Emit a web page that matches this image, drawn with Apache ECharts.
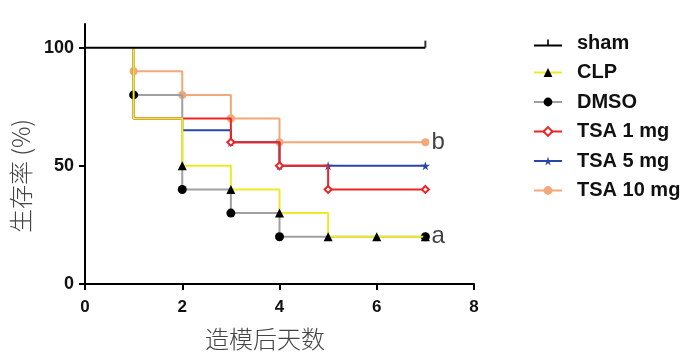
<!DOCTYPE html>
<html><head><meta charset="utf-8">
<script src="https://cdn.jsdelivr.net/npm/echarts@6/dist/echarts.min.js"></script>
<style>html,body{margin:0;padding:0;background:#fff}#c{width:700px;height:361px}</style>
</head><body><div id="c"></div>
<script>
var seriesNames = ['sham', 'CLP', 'DMSO', 'TSA 1 mg', 'TSA 5 mg', 'TSA 10 mg'];
// step curves: [day, survival %]
var sham = [[0, 100], [7, 100]];
var clp = [[1, 100], [1, 70], [2, 50], [3, 40], [4, 30], [5, 20], [6, 20], [7, 20]];
var dmso = [[1, 100], [1, 80], [2, 40], [3, 30], [4, 20], [7, 20]];
var tsa1 = [[1, 100], [1, 70], [2, 70], [3, 60], [4, 50], [5, 40], [7, 40]];
var tsa5 = [[1, 100], [1, 70], [2, 65], [3, 60], [4, 50], [5, 50], [7, 50]];
var tsa10 = [[1, 100], [1, 90], [2, 80], [3, 70], [4, 60], [7, 60]];
var shamCensor = [[7, 100]];
var groupLabels = [[7, 60, 'b'], [7, 20, 'a']];
var xTicks = [0, 2, 4, 6, 8];
var yTicks = [0, 50, 100];

var starPath = 'path://M50,0 L61,35 L98,35 L68,57 L79,91 L50,70 L21,91 L32,57 L2,35 L39,35 Z';
var shamIcon = 'path://M0,5 L28,5 L28,7 L0,7 Z M13.2,0 L14.8,0 L14.8,5 L13.2,5 Z';
var colors = ['#000000', '#eeea2a', '#a0a0a0', '#ee2424', '#2a46a8', '#f2a878'];
var markerColors = ['#000000', '#000000', '#000000', '#ee2424', '#2a46a8', '#f2a878'];
var symbols = ['none', 'triangle', 'circle', 'emptyDiamond', starPath, 'circle'];
var sizes = [0, 9, 9, 7, 9, 8];
var datas = [sham, clp, dmso, tsa1, tsa5, tsa10];
// leading points hidden under other curves (no marker drawn)
var hiddenFirst = [2, 2, 1, 3, 3, 1];

var chart = echarts.init(document.getElementById('c'));
var series = datas.map(function (d, i) {
  return {
    name: seriesNames[i],
    type: 'line',
    step: 'end',
    data: d.map(function (p, j) {
      var item = { value: p };
      if (j < hiddenFirst[i]) { item.symbol = 'none'; }
      return item;
    }),
    symbol: symbols[i],
    symbolSize: sizes[i],
    showAllSymbol: true,
    lineStyle: { color: colors[i], width: 2 },
    itemStyle: { color: markerColors[i], borderColor: markerColors[i], borderWidth: i === 3 ? 1.5 : 0 },
    z: 10 - i,
    animation: false
  };
});
series.push({
  type: 'scatter',
  data: shamCensor,
  symbol: 'rect',
  symbolSize: [2, 7],
  symbolOffset: [0, -3.5],
  itemStyle: { color: '#000' },
  z: 11,
  silent: true,
  animation: false
});
series.push({
  type: 'scatter',
  data: groupLabels.map(function (g) { return { value: [g[0], g[1]], label: { formatter: g[2] } }; }),
  symbolSize: 0,
  label: { show: true, position: 'right', distance: 6, fontSize: 24, color: '#111', fontFamily: 'Liberation Sans, Arial, sans-serif' },
  silent: true,
  animation: false
});

var legendData = seriesNames.map(function (n, i) {
  return i === 0 ? { name: n, icon: shamIcon, itemStyle: { color: '#000' } } : { name: n };
});

chart.setOption({
  animation: false,
  grid: { left: 85, right: 226, top: 24, bottom: 77 },
  legend: {
    data: legendData,
    orient: 'vertical',
    left: 528,
    top: 28,
    itemWidth: 28,
    itemHeight: 11,
    itemGap: 9.5,
    textStyle: { fontSize: 20, fontWeight: 'bold', color: '#111', fontFamily: 'Liberation Sans, Arial, sans-serif', padding: [0, 0, 0, 10] }
  },
  xAxis: {
    type: 'value', min: 0, max: 8, interval: 2,
    name: '造模后天数', nameLocation: 'middle', nameGap: 43,
    nameTextStyle: { fontSize: 24, color: '#444', fontFamily: 'Noto Sans CJK SC', fontWeight: 300, padding: [0, 29, 0, 0] },
    axisLine: { show: true, lineStyle: { color: '#000', width: 2 } },
    axisTick: { show: true, length: 6, lineStyle: { color: '#000', width: 2 } },
    axisLabel: { fontSize: 17, fontWeight: 'bold', color: '#111', margin: 15, fontFamily: 'Liberation Sans, Arial, sans-serif',
      formatter: function (v) { return xTicks.indexOf(v) >= 0 ? String(v) : ''; } },
    splitLine: { show: false }
  },
  yAxis: {
    type: 'value', min: 0, max: 110, interval: 50,
    name: '生存率 (%)', nameLocation: 'middle', nameGap: 47, nameRotate: 90,
    nameTextStyle: { fontSize: 24, color: '#444', fontFamily: 'Noto Sans CJK SC', fontWeight: 300, padding: [0, 44, 0, 0] },
    axisLine: { show: true, lineStyle: { color: '#000', width: 2 } },
    axisTick: { show: true, length: 6, lineStyle: { color: '#000', width: 2 },
      customValues: yTicks },
    axisLabel: { fontSize: 18, fontWeight: 'bold', color: '#111', margin: 11, fontFamily: 'Liberation Sans, Arial, sans-serif',
      customValues: yTicks },
    splitLine: { show: false }
  },
  series: series
});
</script></body></html>
